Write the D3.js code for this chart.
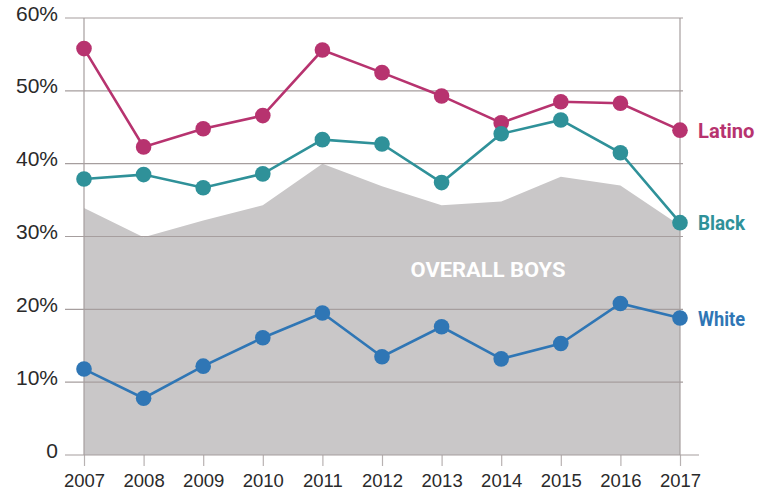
<!DOCTYPE html>
<html>
<head>
<meta charset="utf-8">
<script src="https://cdn.jsdelivr.net/npm/d3@7"></script>
<style>
  body { margin: 0; background: #fff; }
  svg { display: block; }
</style>
</head>
<body>
<svg id="chart" width="768" height="495"></svg>
<script>
// Data (percent)
const years = [2007, 2008, 2009, 2010, 2011, 2012, 2013, 2014, 2015, 2016, 2017];
const latino = [55.8, 42.3, 44.8, 46.6, 55.6, 52.5, 49.3, 45.6, 48.5, 48.3, 44.6];
const black = [37.9, 38.5, 36.7, 38.6, 43.3, 42.7, 37.4, 44.1, 46.0, 41.5, 31.9];
const white = [11.8, 7.8, 12.2, 16.1, 19.5, 13.5, 17.6, 13.2, 15.3, 20.8, 18.8];
const overall = [33.9, 29.9, 32.2, 34.3, 40.0, 36.9, 34.3, 34.8, 38.2, 37.0, 31.5];
const yTicks = [0, 10, 20, 30, 40, 50, 60];

const series = [
  { name: 'Latino', values: latino, color: '#b7336f' },
  { name: 'Black', values: black, color: '#2f9199' },
  { name: 'White', values: white, color: '#2f76b5' }
];

const svg = d3.select('#chart');
const x = d3.scaleLinear().domain([2007, 2017]).range([84, 680]);
const y = d3.scaleLinear().domain([0, 60]).range([455, 18]);
const gridColor = '#a69e9e';
const tickFont = '"Liberation Sans", Arial, sans-serif';

// Overall area
svg.append('path')
  .datum(years.map((yr, i) => [yr, overall[i]]))
  .attr('fill', '#c9c7c8')
  .attr('d', d3.area().x(d => x(d[0])).y0(y(0)).y1(d => y(d[1])));

svg.append('text')
  .attr('x', 488).attr('y', 277)
  .attr('text-anchor', 'middle')
  .attr('fill', '#fff')
  .attr('font-family', 'Roboto, sans-serif')
  .attr('font-weight', 'bold')
  .attr('font-size', '21px')
  .attr('textLength', 155)
  .attr('lengthAdjust', 'spacingAndGlyphs')
  .text('OVERALL BOYS');

// Gridlines
svg.append('g')
  .selectAll('line')
  .data(yTicks.filter(t => t > 0))
  .join('line')
  .attr('x1', 65).attr('x2', 683)
  .attr('y1', d => y(d)).attr('y2', d => y(d))
  .attr('stroke', gridColor)
  .attr('stroke-width', 1.2);

// Vertical edge lines
[2007, 2017].forEach(yr => {
  svg.append('line')
    .attr('x1', x(yr)).attr('x2', x(yr))
    .attr('y1', y(60)).attr('y2', y(0))
    .attr('stroke', gridColor)
    .attr('stroke-width', 1.2);
});

// X axis
const xAxis = svg.append('g')
  .attr('transform', `translate(0,${y(0)})`)
  .call(d3.axisBottom(x).tickValues(years).tickFormat(d3.format('d')).tickSize(11).tickPadding(8).tickSizeOuter(0));
xAxis.select('.domain').remove();
xAxis.selectAll('line').attr('stroke', '#b8b2b2').attr('stroke-width', 1.2);
xAxis.selectAll('text')
  .attr('fill', '#2a2a2a')
  .attr('font-family', tickFont)
  .attr('font-size', '18.5px');
svg.append('line')
  .attr('x1', 65).attr('x2', 699)
  .attr('y1', y(0)).attr('y2', y(0))
  .attr('stroke', gridColor)
  .attr('stroke-width', 1.2);

// Y axis labels
const yAxis = svg.append('g')
  .attr('transform', 'translate(58,0)')
  .call(d3.axisLeft(y).tickValues(yTicks).tickFormat(d => d === 0 ? '0' : d + '%').tickSize(0).tickPadding(0));
yAxis.select('.domain').remove();
yAxis.selectAll('text')
  .attr('fill', '#2a2a2a')
  .attr('font-family', tickFont)
  .attr('font-size', '21px')
  .attr('dy', '0.1em');

// Lines and dots
const line = d3.line().x(d => x(d[0])).y(d => y(d[1]));
series.forEach(s => {
  const pts = years.map((yr, i) => [yr, s.values[i]]);
  svg.append('path')
    .datum(pts)
    .attr('fill', 'none')
    .attr('stroke', s.color)
    .attr('stroke-width', 2.6)
    .attr('d', line);
  svg.append('g')
    .selectAll('circle')
    .data(pts)
    .join('circle')
    .attr('cx', d => x(d[0]))
    .attr('cy', d => y(d[1]))
    .attr('r', 7.8)
    .attr('fill', s.color);
  svg.append('text')
    .attr('x', 698)
    .attr('y', y(s.values[s.values.length - 1]))
    .attr('dy', '0.36em')
    .attr('fill', s.color)
    .attr('font-family', 'Roboto, sans-serif')
    .attr('font-weight', 'bold')
    .attr('font-size', '21px')
    .attr('textLength', s.name.length * 9.4)
    .attr('lengthAdjust', 'spacingAndGlyphs')
    .text(s.name);
});
</script>
</body>
</html>
